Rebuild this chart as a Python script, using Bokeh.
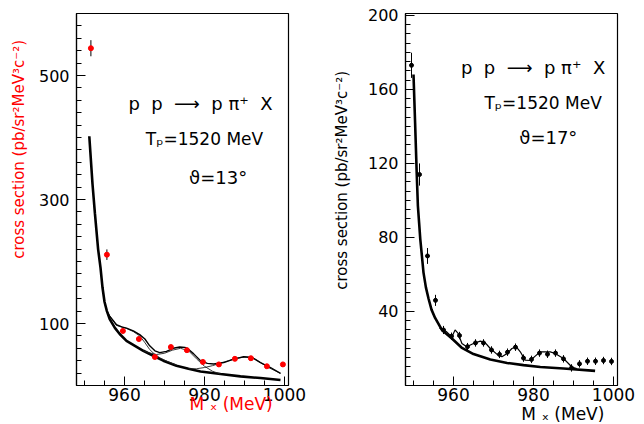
import numpy as np
from bokeh.plotting import figure
from bokeh.models import FixedTicker, Label, Range1d
from bokeh.layouts import row
from bokeh.embed import file_html
from bokeh.resources import INLINE

# ---------------- data: left panel (theta = 13 deg) ----------------
left_mx = [951.6, 955.6, 959.6, 963.6, 967.6, 971.6, 975.6, 979.6, 983.6, 987.6, 991.6, 995.6, 999.6]
left_xs = [544, 211, 88, 75, 46, 62, 57, 38, 34, 43, 44, 31, 34]
left_err = [13, 8.5, 4, 4, 3.5, 3.5, 3.5, 3.5, 3.5, 3.5, 3.5, 3, 3]

bg_left_mx = [951.2, 952.0, 952.6, 953.4, 954.0, 954.5, 955.0, 955.6, 956.3, 957.6, 958.8, 960.5,
              962.6, 964.7, 967.2, 969.7, 973.0, 976.0, 979.0, 984.0, 989.0, 994.0, 999.0]
bg_left_xs = [402, 325, 278, 220, 190, 158, 135, 120, 107, 93, 83, 72,
              64, 56, 48, 40, 32, 27, 22.7, 18.5, 14.7, 12, 9]

fit_left_mx = [955.6, 956.3, 958.0, 959.3, 960.5, 962.2, 963.8, 965.1, 966.3, 967.6, 968.8, 970.5,
               972.2, 973.8, 975.1, 975.7, 977.3, 979.0, 980.7, 982.3, 984.8, 987.3, 989.8,
               991.9, 994.0, 996.5, 999.0]
fit_left_xs = [120, 112, 98, 94.5, 92.5, 88, 82, 75, 64, 56, 53, 55,
               60, 62, 61.5, 60, 51, 40, 35.6, 34.6, 37, 42.6, 46.3,
               45.2, 37, 29, 19.5]

compa_left_mx = [956.3, 958.0, 960.5, 962.2, 963.8, 965.0, 966.3, 967.6, 969.0, 971.0, 973.0]
compa_left_xs = [112, 97, 92, 87, 80, 70, 58, 50, 44, 38, 33]

compb_left_mx = [964.7, 966.0, 968.0, 970.0, 972.0, 974.0, 976.0, 978.0, 980.0, 982.0, 984.0]
compb_left_xs = [56, 53, 50, 52, 57, 60, 56, 43, 31, 23, 18.5]

compc_left_mx = [976.0, 978.0, 980.0, 982.0, 984.0, 986.0, 988.0, 990.0, 992.0, 994.0, 996.0, 999.0]
compc_left_xs = [27, 27, 29, 32, 36, 40, 44, 46, 45, 37, 29, 19.5]

# ---------------- data: right panel (theta = 17 deg) ----------------
right_mx = [949.5, 951.5, 953.5, 955.5, 957.5, 959.5, 961.5, 963.5, 965.5, 967.5, 969.5, 971.5, 973.5,
            975.5, 977.5, 979.5, 981.5, 983.5, 985.5, 987.5, 989.5, 991.5, 993.5, 995.5, 997.5, 999.5]
right_xs = [173, 114, 70, 46, 30, 26.6, 27, 21, 23, 23, 19.2, 16.8, 18,
            20.7, 14.8, 14.1, 17.5, 16.9, 17.5, 14.4, 9.5, 11.7, 13.1, 13.1, 13.5, 13.0]
right_err = [6.8, 6, 4.3, 3, 2.2, 2, 2, 2, 2, 2, 2, 2, 2,
             2, 2, 2, 2, 2, 2, 2, 2, 2, 2, 2, 2, 2]

bg_right_mx = [950.0, 950.4, 950.8, 951.1, 951.4, 951.7, 952.1, 952.5, 953.1, 953.75, 954.5, 955.4,
               957.1, 959.6, 962.0, 965.0, 969.2, 973.4, 977.5, 981.7, 987.5, 995.4]
bg_right_xs = [168, 142, 115, 97, 88, 79, 70, 61, 53, 47, 41, 36.5,
               30, 25.4, 20.5, 17, 14, 12.2, 11, 10, 9.2, 7.9]

fit_right_mx = [956.5, 958.3, 959.6, 960.4, 961.2, 962.1, 963.3, 965.0, 966.7, 967.9, 969.2, 970.9,
                972.1, 973.4, 974.6, 975.7, 976.7, 977.9, 979.2, 980.5, 981.7, 984.2, 985.4,
                987.5, 989.6, 990.8]
fit_right_xs = [31, 29, 26.3, 30, 28, 22.7, 20.9, 22.7, 24, 23.2, 20, 16.8,
                15.5, 17.3, 20, 20.9, 18.2, 13.7, 13.5, 16, 18.2, 18.2, 17.3,
                14.6, 10, 9.2]

x_major = [960, 980, 1000]
x_minor = [950, 955, 960, 965, 970, 975, 980, 985, 990, 995, 1000]
left_y_major = [100, 300, 500]
left_y_minor = list(range(0, 601, 20))
right_y_major = [40, 80, 120, 160, 200]
right_y_minor = list(range(0, 201, 5))

NB = "\u00a0"
y_title = "cross section (pb/sr\u00b2MeV\u00b3c\u207b\u00b2)"
x_title = "M \u2093 (MeV)"
reaction = "p" + NB + " p" + NB + " \u27f6" + NB + " p \u03c0\u207a" + NB + " X"
beam = "T\u209a=1520 MeV"
angle_left = "\u03d1=13\u00b0"
angle_right = "\u03d1=17\u00b0"

FONT = "DejaVu Sans"
RED = "#ff0000"


def make_fig(border_left, border_right, border_top, border_bottom, ymax, ymajor, yminor):
    p = figure(frame_width=212, frame_height=372,
               min_border_left=border_left, min_border_right=border_right,
               min_border_top=border_top, min_border_bottom=border_bottom,
               x_range=Range1d(948, 1001), y_range=Range1d(0, ymax),
               output_backend="svg", toolbar_location=None, tools="")
    p.background_fill_color = "white"
    p.border_fill_color = "white"
    p.outline_line_color = "black"
    p.outline_line_width = 1.2
    p.xgrid.visible = False
    p.ygrid.visible = False
    p.xaxis.ticker = FixedTicker(ticks=x_major, minor_ticks=x_minor)
    p.yaxis.ticker = FixedTicker(ticks=ymajor, minor_ticks=yminor)
    for ax in (p.xaxis[0], p.yaxis[0]):
        ax.major_tick_in = 9
        ax.major_tick_out = 0
        ax.minor_tick_in = 5
        ax.minor_tick_out = 0
        ax.axis_line_color = "black"
        ax.axis_line_width = 1.2
        ax.major_tick_line_color = "black"
        ax.minor_tick_line_color = "black"
        ax.major_label_text_font = FONT
        ax.major_label_text_color = "black"
        ax.axis_label_text_font = FONT
        ax.axis_label_text_font_style = "normal"
    p.xaxis.major_label_text_font_size = "17px"
    p.xaxis.major_label_standoff = 2
    p.yaxis.major_label_text_font_size = "16px"
    p.yaxis.major_label_standoff = 7
    p.xaxis.axis_label_text_font_size = "17px"
    p.yaxis.axis_label_text_font_size = "15px"
    return p


def text(p, x, y, s, size):
    p.add_layout(Label(x=x, y=y, text=s, text_font=FONT, text_font_size=size,
                       text_color="black", text_align="center", text_baseline="middle"))


# ---------------- left figure ----------------
p1 = make_fig(76, 34, 13, 39, 600, left_y_major, left_y_minor)
p1.line(bg_left_mx, bg_left_xs, line_color="black", line_width=2.6)
p1.line(compa_left_mx, compa_left_xs, line_color="#222222", line_width=0.9)
p1.line(compb_left_mx, compb_left_xs, line_color="#222222", line_width=0.9)
p1.line(compc_left_mx, compc_left_xs, line_color="#222222", line_width=0.9)
p1.line(fit_left_mx, fit_left_xs, line_color="black", line_width=1.4)
p1.segment(x0=left_mx, y0=[v - e for v, e in zip(left_xs, left_err)],
           x1=left_mx, y1=[v + e for v, e in zip(left_xs, left_err)],
           line_color="black", line_width=1)
p1.scatter(left_mx, left_xs, marker="circle", size=5, fill_color=RED, line_color=RED)
text(p1, 979.0, 455, reaction, "18px")
text(p1, 980.0, 397, beam, "17px")
text(p1, 983.4, 336, angle_left, "18px")
# axis titles shifted off-centre (as in the original) with leading no-break spaces
p1.xaxis.axis_label = NB * 18 + x_title
p1.yaxis.axis_label = NB * 21 + y_title
p1.xaxis.axis_label_text_color = RED
p1.yaxis.axis_label_text_color = RED
p1.xaxis.axis_label_standoff = -10
p1.yaxis.axis_label_standoff = 8

# ---------------- right figure ----------------
p2 = make_fig(83, 27, 8, 44, 201, right_y_major, right_y_minor)
p2.line(bg_right_mx, bg_right_xs, line_color="black", line_width=2.6)
p2.line(fit_right_mx, fit_right_xs, line_color="black", line_width=1.2)
p2.segment(x0=right_mx, y0=[v - e for v, e in zip(right_xs, right_err)],
           x1=right_mx, y1=[v + e for v, e in zip(right_xs, right_err)],
           line_color="black", line_width=1)
p2.segment(x0=[m - 0.35 for m in right_mx], y0=right_xs,
           x1=[m + 0.35 for m in right_mx], y1=right_xs,
           line_color="black", line_width=1)
p2.scatter(right_mx, right_xs, marker="circle", size=4, fill_color="black", line_color="black")
text(p2, 979.9, 172, reaction, "18px")
text(p2, 982.4, 152.6, beam, "17px")
text(p2, 983.7, 134.2, angle_right, "18px")
p2.xaxis.axis_label = NB * 19 + x_title
p2.yaxis.axis_label = NB * 8 + y_title
p2.xaxis.axis_label_text_color = "black"
p2.yaxis.axis_label_text_color = "black"
p2.xaxis.axis_label_standoff = 0
p2.yaxis.axis_label_standoff = 14

layout = row(p1, p2)
open("out.html", "w").write(file_html(layout, INLINE))
